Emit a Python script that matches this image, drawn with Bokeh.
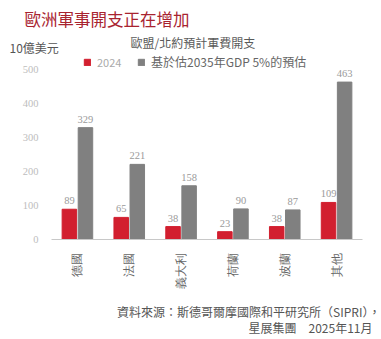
import math
from bokeh.plotting import figure
from bokeh.models import ColumnDataSource, Label, Range1d, Legend, LegendItem
from bokeh.embed import file_html
from bokeh.resources import INLINE

categories = ["德國", "法國", "義大利", "荷蘭", "波蘭", "其他"]
spend_2024 = [89, 65, 38, 23, 38, 109]
spend_2035 = [329, 221, 158, 90, 87, 463]
y_ticks = [0, 100, 200, 300, 400, 500]
series_names = ["2024", "基於估2035年GDP 5%的預估"]

FONT = "Noto Sans CJK TC"
RED = "#d21f2f"
GRAY = "#808080"
W, H = 381, 339

# plot area inside the canvas (pixels): categories span 51..362, zero line at 239, 0.34 px per unit
PX_X = (362 - 51) / len(categories)
PX_Y = 0.34
x0 = -51 / PX_X
x1 = (W - 51) / PX_X
y1 = 239 / PX_Y
y0 = -(H - 239) / PX_Y

xs = [i + 0.5 for i in range(len(categories))]
x_red = [x - 0.155 for x in xs]
x_gray = [x + 0.155 for x in xs]

src_red = ColumnDataSource(dict(x=x_red, top=spend_2024, lab=[str(v) for v in spend_2024]))
src_gray = ColumnDataSource(dict(x=x_gray, top=spend_2035, lab=[str(v) for v in spend_2035]))
src_cat = ColumnDataSource(dict(x=xs, y=[0] * len(xs), lab=categories))
src_tick = ColumnDataSource(dict(x=[0] * len(y_ticks), y=y_ticks, lab=[str(t) for t in y_ticks]))

p = figure(width=W, height=H, output_backend="svg", toolbar_location=None,
           x_range=Range1d(x0, x1), y_range=Range1d(y0, y1),
           min_border=0, x_axis_type=None, y_axis_type=None)
p.outline_line_color = None
p.grid.visible = False

r_red = p.vbar(x="x", top="top", width=0.28, bottom=0, source=src_red, color=RED)
r_gray = p.vbar(x="x", top="top", width=0.28, bottom=0, source=src_gray, color=GRAY)

# baseline (x axis line)
p.line(x=[0, len(categories)], y=[0, 0], line_color="#c8c8c8", line_width=1)

# value labels
for s in (src_red, src_gray):
    p.text(x="x", y="top", text="lab", source=s, text_align="center", text_baseline="bottom",
           y_offset=-5, text_font_size="10.5px", text_color="#9a9a9a", text_font=FONT)

# y tick labels
p.text(x="x", y="y", text="lab", source=src_tick, text_align="right", text_baseline="middle",
       x_offset=-13, text_font_size="10.5px", text_color="#bdbdbd", text_font=FONT)

# category labels (rotated)
p.text(x="x", y="y", text="lab", source=src_cat, angle=math.pi / 2, text_align="right",
       text_baseline="middle", y_offset=13, text_font_size="12px", text_color="#666666",
       text_font=FONT)

def lab(text, cx, cy, size, color, align="left"):
    p.add_layout(Label(x=cx, y=H - cy, x_units="screen", y_units="screen", text=text,
                       text_font=FONT, text_font_size=size, text_color=color,
                       text_align=align, text_baseline="middle"))

lab("歐洲軍事開支正在增加", 24, 18, "16.5px", "#a8232f")
lab("10億美元", 9, 47, "12px", "#555555")
lab("歐盟/北約預計軍費開支", 130, 42, "12px", "#5a5a5a")
lab("資料來源：斯德哥爾摩國際和平研究所（SIPRI），", 380, 311, "12px", "#555555", "right")
lab("星展集團　2025年11月", 372, 327, "12px", "#555555", "right")

def add_legend(renderer, name, color, cx):
    leg = Legend(items=[LegendItem(label=name, renderers=[renderer])],
                 location=(cx, H - 70), orientation="horizontal",
                 glyph_width=8, glyph_height=8, label_standoff=6, label_height=12,
                 padding=0, margin=0, border_line_color=None, background_fill_alpha=0,
                 label_text_font=FONT, label_text_font_size="12px" if cx > 100 else "11px",
                 label_text_color=color, label_text_baseline="middle")
    p.add_layout(leg)

add_legend(r_red, series_names[0], "#aaaaaa", 83)
add_legend(r_gray, series_names[1], "#666666", 137)

open("out.html", "w").write(file_html(p, INLINE))
